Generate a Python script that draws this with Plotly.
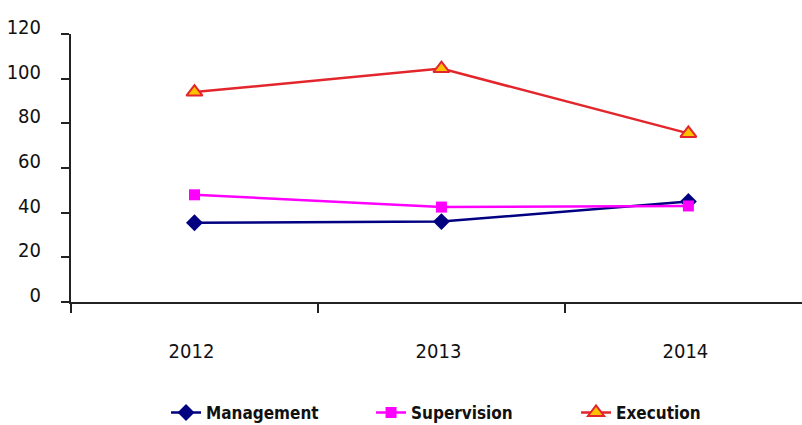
import plotly.graph_objects as go

years = ["2012", "2013", "2014"]
management = [35.5, 36, 45]
supervision = [48, 42.5, 43]
execution = [94, 104.5, 75.5]
y_ticks = [0, 20, 40, 60, 80, 100, 120]

FONT = "DejaVu Sans Condensed, sans-serif"

fig = go.Figure()
fig.add_trace(go.Scatter(
    x=years, y=management, name="Management", mode="lines+markers",
    line=dict(color="#000080", width=2.5),
    marker=dict(symbol="diamond", size=13, color="#000080"),
))
fig.add_trace(go.Scatter(
    x=years, y=supervision, name="Supervision", mode="lines+markers",
    line=dict(color="#FF00FF", width=2.5),
    marker=dict(symbol="square", size=11, color="#FF00FF"),
))
fig.add_trace(go.Scatter(
    x=years, y=execution, name="Execution", mode="lines+markers",
    line=dict(color="#E2262C", width=2.5),
    marker=dict(symbol="triangle-up", size=14, color="#FFC000",
                line=dict(color="#E2262C", width=2)),
))

fig.update_layout(
    width=802, height=425,
    margin=dict(l=71, r=0, t=34, b=123, autoexpand=False),
    paper_bgcolor="white", plot_bgcolor="white",
    font=dict(family=FONT, color="#111111", size=20),
    showlegend=True,
    legend=dict(
        orientation="h", x=0.13, xanchor="left", y=-0.414, yanchor="middle",
        font=dict(family=FONT, size=17, color="#111111", weight="bold"),
        entrywidth=160, bgcolor="rgba(0,0,0,0)",
    ),
    xaxis=dict(
        type="category", range=[-0.5, 2.46], tickson="boundaries",
        showline=True, linecolor="#222222", linewidth=2,
        ticks="outside", ticklen=9, tickwidth=1.5, tickcolor="#222222",
        ticklabelstandoff=30, ticklabelshift=-3,
        showgrid=False, zeroline=False,
        tickfont=dict(family=FONT, size=20),
    ),
    yaxis=dict(
        range=[0, 120], tickvals=y_ticks,
        showline=True, linecolor="#222222", linewidth=2,
        ticks="outside", ticklen=8, tickwidth=1.5, tickcolor="#222222",
        ticklabelstandoff=16, ticklabelshift=-7,
        showgrid=False, zeroline=False,
        tickfont=dict(family=FONT, size=20),
    ),
)

fig.write_html("out.html")
